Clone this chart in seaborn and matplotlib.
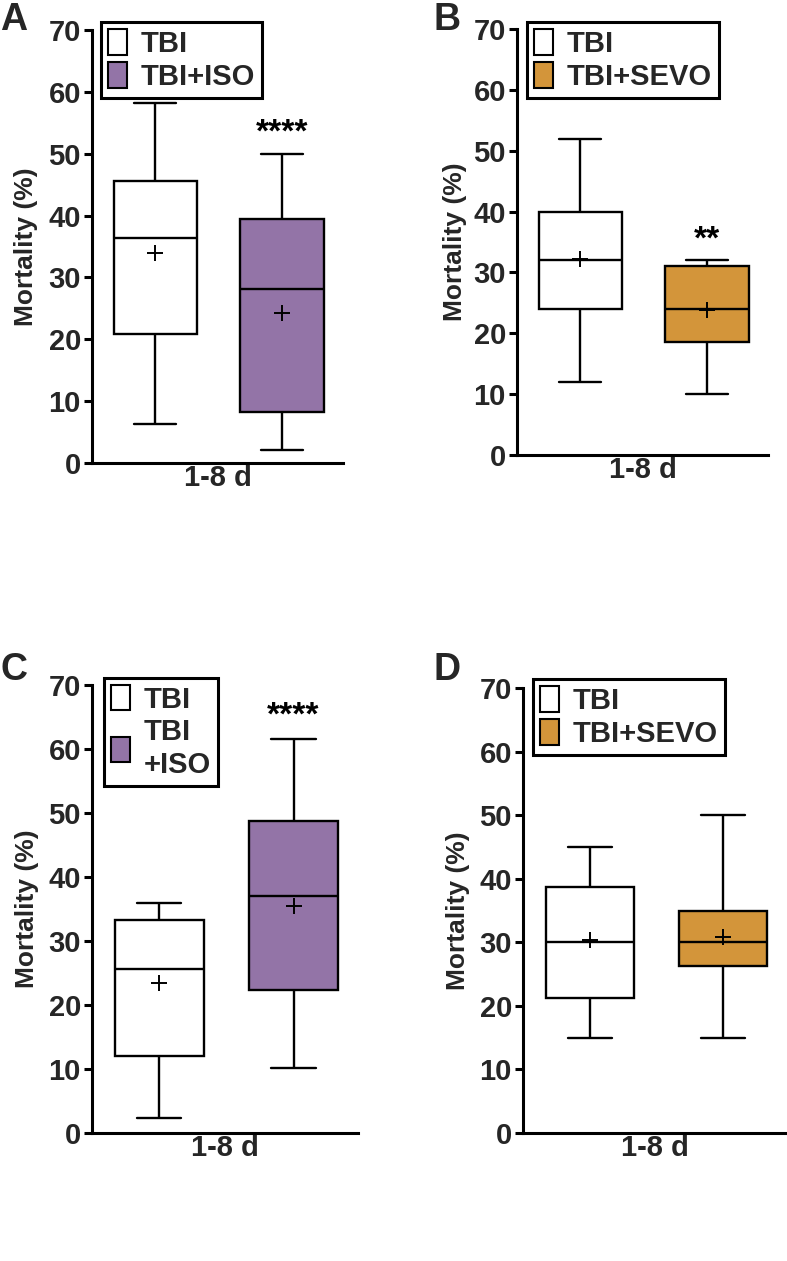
import numpy as np
import pandas as pd
import matplotlib
matplotlib.use("Agg")
import matplotlib.pyplot as plt
import seaborn as sns
from matplotlib.patches import Patch

sns.set_theme(style="ticks")
plt.rcParams["font.family"] = ["Liberation Sans", "DejaVu Sans"]
plt.rcParams["font.weight"] = "bold"

# ---------------- data (five-number summaries + means) ----------
xcat = "1-8 d"
ylabel = "Mortality (%)"
yticks = [0, 10, 20, 30, 40, 50, 60, 70]

groups_A = ["TBI", "TBI+ISO"]
min_A = [6.3, 2.1]
q1_A = [20.8, 8.3]
med_A = [36.3, 28.1]
q3_A = [45.6, 39.5]
max_A = [58.2, 49.9]
mean_A = [33.9, 24.3]
stars_A = ["", "****"]

groups_B = ["TBI", "TBI+SEVO"]
min_B = [12.0, 10.0]
q1_B = [24.0, 18.5]
med_B = [32.0, 24.0]
q3_B = [40.0, 31.0]
max_B = [52.0, 32.0]
mean_B = [32.2, 23.8]
stars_B = ["", "**"]

groups_C = ["TBI", "TBI+ISO"]
legend_C = ["TBI", "TBI\n+ISO"]
min_C = [2.4, 10.2]
q1_C = [12.1, 22.4]
med_C = [25.6, 37.1]
q3_C = [33.3, 48.7]
max_C = [35.9, 61.5]
mean_C = [23.5, 35.4]
stars_C = ["", "****"]

groups_D = ["TBI", "TBI+SEVO"]
min_D = [15.0, 15.0]
q1_D = [21.2, 26.2]
med_D = [30.0, 30.0]
q3_D = [38.7, 34.9]
max_D = [45.0, 50.0]
mean_D = [30.4, 30.9]
stars_D = ["", ""]

white = "#FFFFFF"
purple = "#9374A7"
orange = "#D3953A"

W, H = 787, 1261
fig = plt.figure(figsize=(W / 100, H / 100), dpi=100)


def rect(l, r, t, b):
    return [l / W, 1 - b / H, (r - l) / W, (b - t) / H]


panels = [
    dict(letter="A", rect=rect(92, 343, 30, 463), letter_xy=(0, 2),
         groups=groups_A, labels=groups_A, mn=min_A, q1=q1_A, md=med_A, q3=q3_A, mx=max_A,
         mean=mean_A, stars=stars_A, star_y=[0, 52.0], color=purple,
         leg=(0.036, 1.018), ylab_x=-0.215),
    dict(letter="B", rect=rect(517, 768, 29, 455), letter_xy=(433, 2),
         groups=groups_B, labels=groups_B, mn=min_B, q1=q1_B, md=med_B, q3=q3_B, mx=max_B,
         mean=mean_B, stars=stars_B, star_y=[0, 34.0], color=orange,
         leg=(0.04, 1.016), ylab_x=-0.2),
    dict(letter="C", rect=rect(92, 358, 685, 1133), letter_xy=(0, 652),
         groups=groups_C, labels=legend_C, mn=min_C, q1=q1_C, md=med_C, q3=q3_C, mx=max_C,
         mean=mean_C, stars=stars_C, star_y=[0, 63.8], color=purple,
         leg=(0.045, 1.016), ylab_x=-0.2),
    dict(letter="D", rect=rect(523, 787, 688, 1133), letter_xy=(433, 652),
         groups=groups_D, labels=groups_D, mn=min_D, q1=q1_D, md=med_D, q3=q3_D, mx=max_D,
         mean=mean_D, stars=stars_D, star_y=[0, 0], color=orange,
         leg=(0.038, 1.02), ylab_x=-0.2),
]

for p in panels:
    ax = fig.add_axes(p["rect"])
    rows = []
    for i, g in enumerate(p["groups"]):
        for v in (p["mn"][i], p["q1"][i], p["md"][i], p["q3"][i], p["mx"][i]):
            rows.append({"group": g, "value": v})
    df = pd.DataFrame(rows)
    pal = {p["groups"][0]: white, p["groups"][1]: p["color"]}
    sns.boxplot(data=df, x="group", y="value", hue="group", palette=pal,
                order=p["groups"], hue_order=p["groups"], whis=(0, 100),
                width=0.66, saturation=1, linewidth=1.7, linecolor="black",
                legend=False, ax=ax)
    ax.plot(p["groups"], p["mean"], linestyle="none", marker="+", color="black",
            markersize=12, markeredgewidth=1.4, zorder=5)
    for i, s in enumerate(p["stars"]):
        if s:
            ax.text(i, p["star_y"][i], s, ha="center", va="baseline",
                    fontsize=24, fontweight="bold", color="black")

    ax.set_ylim(0, 70)
    ax.set_xlim(-0.5, 1.48)
    ax.set_yticks(yticks)
    ax.set_yticklabels([str(t) for t in yticks], fontsize=21, fontweight="bold")
    ax.set_xticks([])
    ax.set_xlabel(xcat, fontsize=21, fontweight="bold", labelpad=1)
    ax.set_ylabel(ylabel, fontsize=19, fontweight="bold")
    ax.yaxis.set_label_coords(p["ylab_x"], 0.5)
    for side in ("top", "right"):
        ax.spines[side].set_visible(False)
    for side in ("left", "bottom"):
        ax.spines[side].set_linewidth(2.2)
        ax.spines[side].set_color("black")
    ax.tick_params(axis="y", length=6, width=2.2, color="black", pad=2)
    ax.set_facecolor("white")

    handles = [Patch(facecolor=white, edgecolor="black", linewidth=1.5),
               Patch(facecolor=p["color"], edgecolor="black", linewidth=1.5)]
    leg = ax.legend(handles, p["labels"], loc="upper left", bbox_to_anchor=p["leg"],
                    borderaxespad=0, frameon=True, fancybox=False, framealpha=1,
                    edgecolor="black", handlelength=0.65, handleheight=0.95,
                    handletextpad=0.45, borderpad=0.25, labelspacing=0.15,
                    prop={"weight": "bold", "size": 21})
    leg.get_frame().set_linewidth(2.2)

    fig.text(p["letter_xy"][0] / W, 1 - p["letter_xy"][1] / H, p["letter"],
             fontsize=27, fontweight="bold", ha="left", va="top")

fig.savefig("out.png", dpi=100, facecolor="white")
